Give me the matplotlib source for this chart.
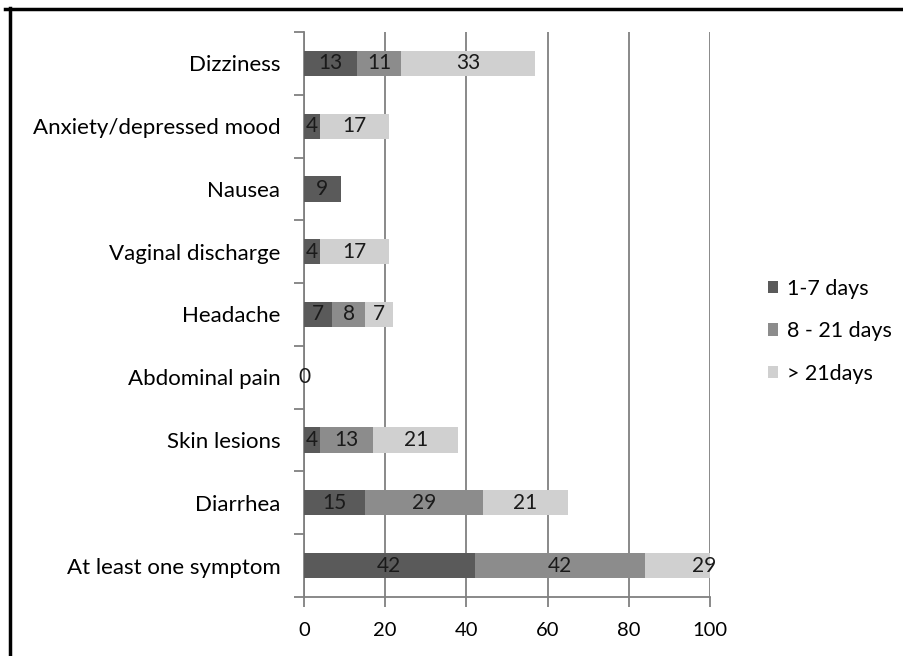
import numpy as np
import matplotlib
matplotlib.use("Agg")
import matplotlib.pyplot as plt
from matplotlib.lines import Line2D
from matplotlib.patches import Patch

categories = ["At least one symptom", "Diarrhea", "Skin lesions", "Abdominal pain",
              "Headache", "Vaginal discharge", "Nausea", "Anxiety/depressed mood", "Dizziness"]
series_names = ["1-7 days", "8 - 21 days", "> 21days"]
s_1_7 = [42, 15, 4, 0, 7, 4, 9, 4, 13]
s_8_21 = [42, 29, 13, np.nan, 8, np.nan, np.nan, np.nan, 11]
s_21p = [29, 21, 21, np.nan, 7, 17, np.nan, 17, 33]
x_ticks = [0, 20, 40, 60, 80, 100]

colors = ["#5a5a5a", "#8c8c8c", "#d0d0d0"]
plt.rcParams['font.family'] = ['Lato', 'DejaVu Sans']

fig = plt.figure(figsize=(9.04, 6.56), dpi=100)
ax = fig.add_axes([304/904, 1-597/656, 406/904, 565/656])

y = np.arange(len(categories))
left = np.zeros(len(categories))
for vals, col, name in zip([s_1_7, s_8_21, s_21p], colors, series_names):
    v = np.array(vals, dtype=float)
    vv = np.nan_to_num(v)
    ax.barh(y, vv, left=left, height=0.4, color=col, zorder=3, label=name)
    for i, val in enumerate(v):
        if not np.isnan(val):
            ax.text(left[i] + vv[i] / 2, y[i], f"{int(val)}", ha="center", va="center",
                    fontsize=15, color="#1a1a1a", zorder=5, clip_on=False)
    left = left + vv

ax.set_xlim(0, 100)
ax.set_ylim(-0.5, len(categories) - 0.5)
ax.set_xticks(x_ticks)
ax.set_xticklabels([str(t) for t in x_ticks], fontsize=14.5)
ax.set_yticks(y)
ax.set_yticklabels(categories, fontsize=16)
ax.tick_params(axis="y", length=0, pad=17)
ax.tick_params(axis="x", length=7, width=1.3, color="#808080", pad=11, direction="out")
ax.set_yticks(np.arange(-0.5, len(categories)), minor=True)
ax.tick_params(axis="y", which="minor", length=7, width=1.3, color="#808080", direction="out")

for s in ["top", "right"]:
    ax.spines[s].set_visible(False)
for s in ["left", "bottom"]:
    ax.spines[s].set_color("#808080")
    ax.spines[s].set_linewidth(1.3)
ax.xaxis.grid(True, color="#808080", linewidth=1.3, zorder=0)
ax.set_axisbelow(True)

handles = [Patch(facecolor=c, edgecolor="none") for c in colors]
fig.legend(handles, series_names, loc="upper left", bbox_to_anchor=(759/904, 1-270/656),
           frameon=False, fontsize=15.5, handlelength=0.5, handleheight=0.5,
           handletextpad=0.4, labelspacing=1.05, borderaxespad=0)

fig.add_artist(Line2D([5/904, 1], [1-9/656, 1-9/656], color="black", linewidth=2.5,
                      transform=fig.transFigure))
fig.add_artist(Line2D([10/904, 10/904], [0, 1-8/656], color="black", linewidth=2.5,
                      transform=fig.transFigure))

fig.savefig("out.png", dpi=100)
